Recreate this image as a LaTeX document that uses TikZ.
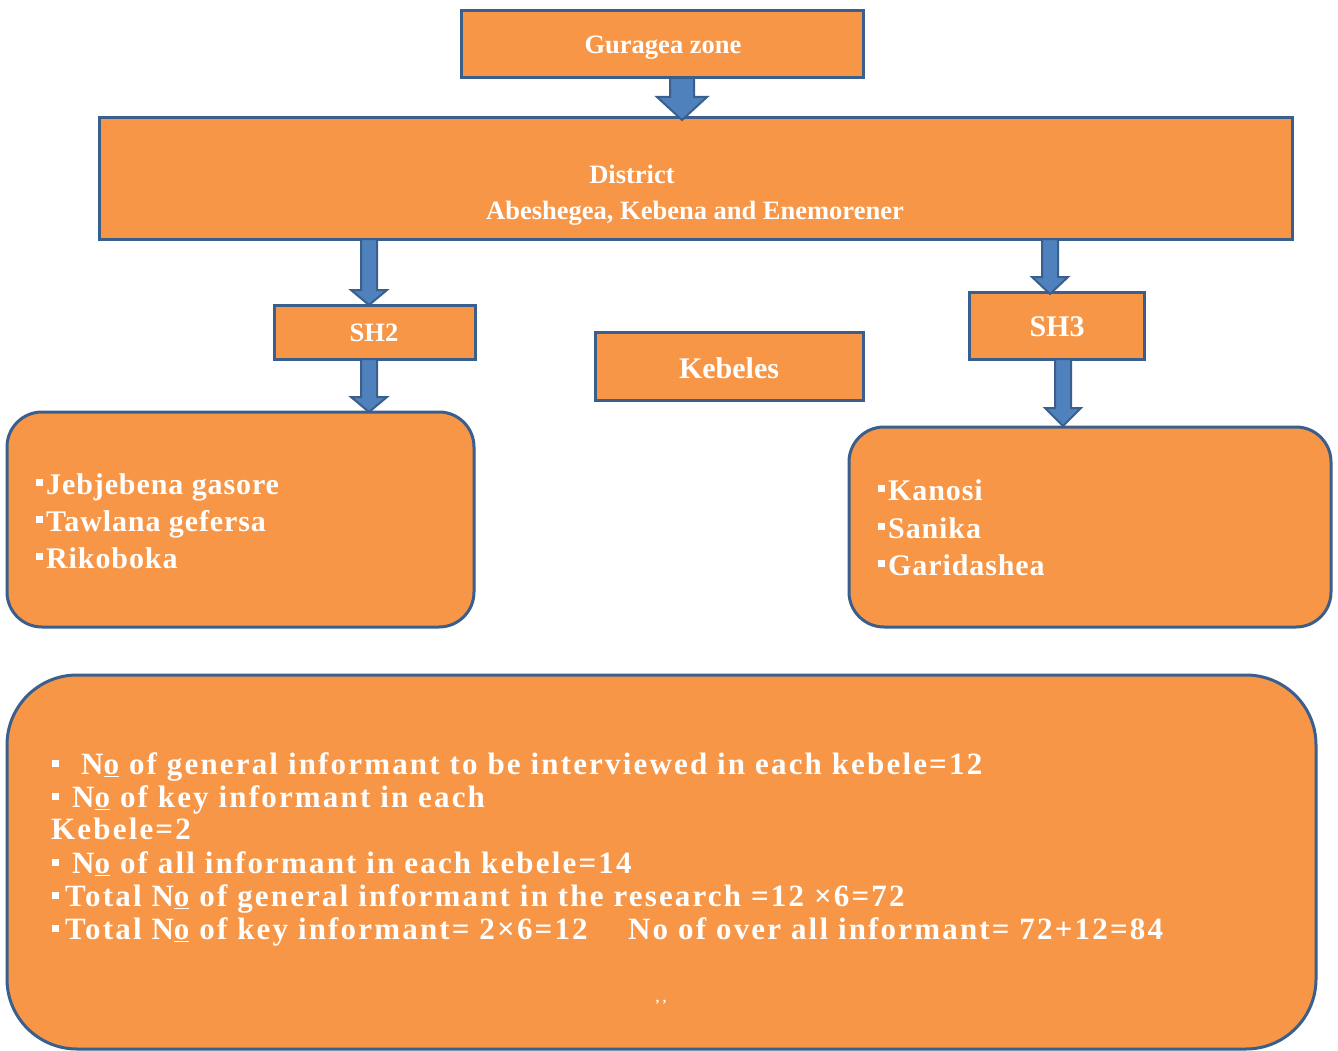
\documentclass[tikz,border=0pt]{standalone}
\usepackage{fontspec}
\setmainfont{Liberation Serif}
\newfontfamily\spaced{Liberation Serif}[LetterSpace=7]
\newfontfamily\lspaced{Liberation Serif}[LetterSpace=3]
\definecolor{org}{HTML}{F79646}
\definecolor{bord}{HTML}{3A5F8C}
\definecolor{arr}{HTML}{4F81BD}
\newcommand\sqb{\raisebox{8pt}{\rule{7pt}{7pt}}\hspace{3pt}}
\newcommand\sqs{\raisebox{7pt}{\rule{7pt}{7pt}}}
\newcommand\Nou{N\underline{o}}
\newcommand\barrow[6]{%
  \draw[arrowstyle] (#1-#5,#2) -- (#1-#5,#3) -- (#1-#6,#3) -- (#1,#4) -- (#1+#6,#3) -- (#1+#5,#3) -- (#1+#5,#2) -- cycle;}
\begin{document}
\begin{tikzpicture}[x=1pt,y=-1pt,
  box/.style={draw=bord,line width=3pt,fill=org,inner sep=0pt},
  rbox/.style={box,rounded corners=35pt},
  arrowstyle/.style={draw=bord,line width=2pt,fill=arr,line join=miter},
  lbl/.style={text=white,font=\bfseries\fontsize{26.5}{30}\selectfont,inner sep=0pt},
  big/.style={text=white,font=\bfseries\fontsize{30}{34}\selectfont,inner sep=0pt},
  lst/.style={text=white,font=\lspaced\bfseries\fontsize{30}{34}\selectfont,inner sep=0pt,anchor=base west},
  bl/.style={text=white,font=\spaced\bfseries\fontsize{31}{34}\selectfont,inner sep=0pt,anchor=base west}]
\useasboundingbox[fill=white] (0,0) rectangle (1338,1051);
\node[box,minimum width=402pt,minimum height=67pt] (zone) at (662,44.5) {};
\node[box,minimum width=1193pt,minimum height=121pt] (district) at (695.5,178.5) {};
\node[box,minimum width=201pt,minimum height=54pt] (sh2) at (374.5,332) {};
\node[box,minimum width=268pt,minimum height=68pt] (keb) at (729,366) {};
\node[box,minimum width=175pt,minimum height=67pt] (sh3) at (1056.5,325.5) {};
\node[rbox,minimum width=467pt,minimum height=215pt] (left) at (240.5,519.5) {};
\node[rbox,minimum width=482pt,minimum height=200pt] (right) at (1090,527) {};
\node[box,rounded corners=70pt,minimum width=1309pt,minimum height=374pt] (bottom) at (661.5,862) {};
% arrows
\barrow{682}{78}{97}{120}{12}{25}
\barrow{369}{239}{290}{305}{8}{18}
\barrow{369}{359}{397}{412}{8}{18}
\barrow{1050}{239}{277}{294}{8}{18}
\barrow{1063}{359}{408}{426}{8}{18}
% labels
\node[lbl] (tzone) at (663,48) {Guragea zone};
\node[lbl] (tdist) at (632,174) {District};
\node[lbl] (tdist2) at (695,213) {Abeshegea, Kebena and Enemorener};
\node[lbl] (tsh2) at (374,333) {SH2};
\node[big] (tkeb) at (729,368) {Kebeles};
\node[big] (tsh3) at (1057,327) {SH3};
\node[lst] (l1) at (36,494) {\sqb Jebjebena gasore};
\node[lst] (l2) at (36,531) {\sqb Tawlana gefersa};
\node[lst] (l3) at (36,568) {\sqb Rikoboka};
\node[lst] (r1) at (878,500) {\sqb Kanosi};
\node[lst] (r2) at (878,538) {\sqb Sanika};
\node[lst] (r3) at (878,575) {\sqb Garidashea};
\node[bl] (b1) at (52,774) {\sqs\hspace{22pt}\Nou{} of general informant to be interviewed in each kebele=12};
\node[bl] (b2) at (52,807) {\sqs\hspace{13pt}\Nou{} of key informant in each};
\node[bl] (b3) at (51,839) {Kebele=2};
\node[bl] (b4) at (52,873) {\sqs\hspace{13pt}\Nou{} of all informant in each kebele=14};
\node[bl] (b5) at (52,906) {\sqs\hspace{6pt}Total \Nou{} of general informant in the research =12 \texttimes6=72};
\node[bl] (b6) at (52,939) {\sqs\hspace{6pt}Total \Nou{} of key informant= 2\texttimes6=12};
\node[bl] (b7) at (628,939) {No of over all informant= 72+12=84};
\node[text=white,font=\bfseries\fontsize{14}{16}\selectfont,inner sep=0pt] (q) at (661,1005) {’\,’};
\end{tikzpicture}
\end{document}
